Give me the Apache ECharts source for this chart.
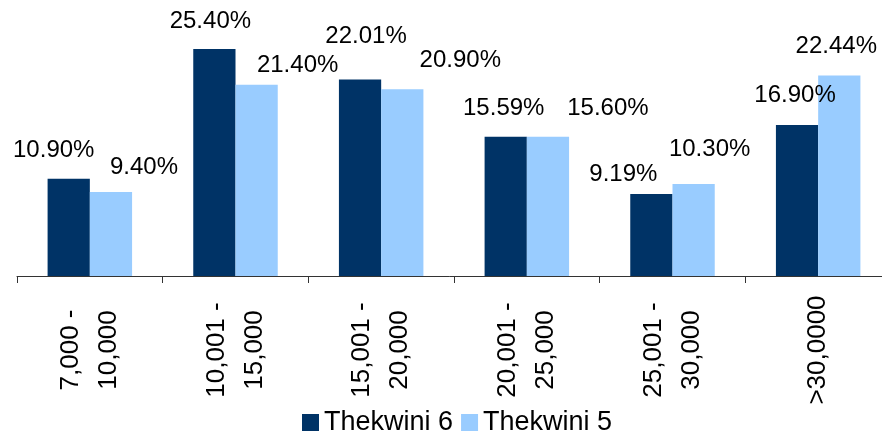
<!DOCTYPE html>
<html>
<head>
<meta charset="utf-8">
<script src="https://cdn.jsdelivr.net/npm/echarts@6/dist/echarts.min.js"></script>
<style>
  html, body { margin: 0; padding: 0; background: #fff; }
  #chart { width: 882px; height: 433px; }
</style>
</head>
<body>
<div id="chart"></div>
<script>
// Income bands (two-line labels) and share of loans per band
const categories = ['7,000 -\n10,000', '10,001 -\n15,000', '15,001 -\n20,000', '20,001 -\n25,000', '25,001 -\n30,000', '>30,0000'];
const thekwini6 = [10.90, 25.40, 22.01, 15.59, 9.19, 16.90];
const thekwini5 = [9.40, 21.40, 20.90, 15.60, 10.30, 22.44];
const seriesNames = ['Thekwini 6', 'Thekwini 5'];

// Per-bar nudges of the value labels, [dx, dy] in pixels
const labelNudge6 = [[-15, -16], [-4, -16], [6, -31], [-2, -16], [-28, -8], [-2, -18]];
const labelNudge5 = [[33, -13], [41, -7], [58, -17], [60, -16], [16, -23], [-3, -17]];

const FONT = 'Liberation Sans';

function withLabels(values, nudges) {
  return values.map((v, i) => ({ value: v, label: { offset: nudges[i] } }));
}

const valueLabel = {
  show: true,
  position: 'top',
  distance: 0,
  fontFamily: FONT,
  fontSize: 24,
  color: '#000',
  formatter: p => p.value.toFixed(2) + '%'
};

const chart = echarts.init(document.getElementById('chart'), null, { renderer: 'canvas' });
chart.setOption({
  animation: false,
  backgroundColor: '#fff',
  // plot runs past the right edge so the last band is partly cut off
  grid: { left: 17, width: 874, top: 8, bottom: 157, containLabel: false, outerBoundsMode: 'none' },
  legend: {
    data: seriesNames,
    left: 297,
    top: 404,
    itemWidth: 17,
    itemHeight: 17,
    itemGap: 8,
    icon: 'rect',
    textStyle: { fontFamily: FONT, fontSize: 27, color: '#000', padding: 0 }
  },
  xAxis: {
    type: 'category',
    data: categories,
    axisLine: { lineStyle: { color: '#333', width: 1 } },
    axisTick: { show: true, length: 7, lineStyle: { color: '#333' } },
    axisLabel: {
      rotate: 90,
      interval: 0,
      margin: 74,
      align: 'center',
      verticalAlign: 'middle',
      fontFamily: FONT,
      fontSize: 26,
      lineHeight: 38,
      color: '#000'
    }
  },
  yAxis: {
    type: 'value',
    min: 0,
    max: 30,
    show: false,
    splitLine: { show: false }
  },
  series: [
    {
      name: seriesNames[0],
      type: 'bar',
      data: withLabels(thekwini6, labelNudge6),
      itemStyle: { color: '#003366' },
      barGap: '0%',
      barCategoryGap: '42%',
      label: valueLabel
    },
    {
      name: seriesNames[1],
      type: 'bar',
      data: withLabels(thekwini5, labelNudge5),
      itemStyle: { color: '#99CCFF' },
      barGap: '0%',
      barCategoryGap: '42%',
      label: valueLabel
    }
  ]
});
</script>
</body>
</html>
